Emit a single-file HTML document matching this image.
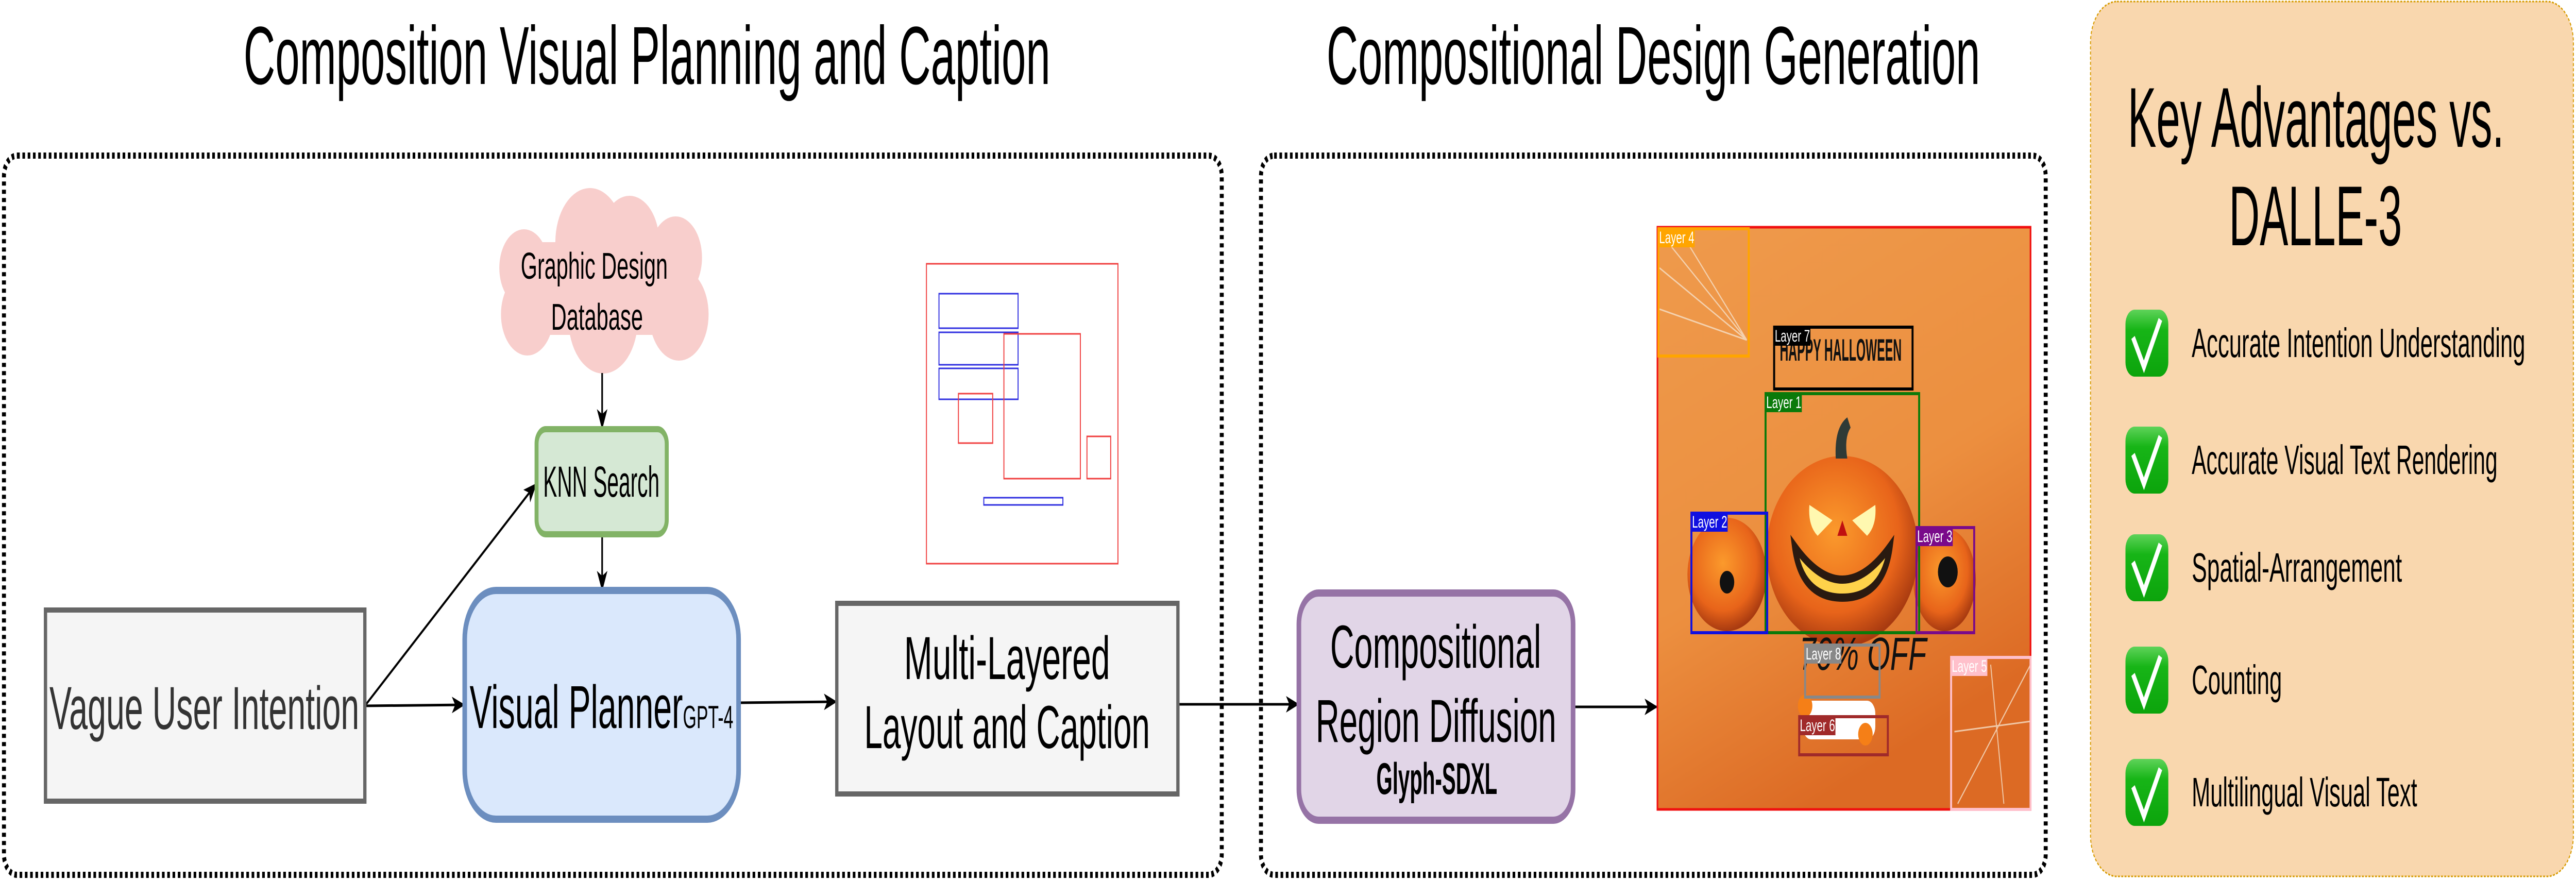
<!DOCTYPE html>
<html><head><meta charset="utf-8"><style>
html,body{margin:0;padding:0;background:#fff;width:100%;height:100%;overflow:hidden}
svg{display:block;width:100vw;height:100vh}
text{font-family:"Liberation Sans",sans-serif}
</style></head><body>
<svg viewBox="0 0 7816 1708" preserveAspectRatio="none" xmlns="http://www.w3.org/2000/svg">
<defs>
<marker id="ah" markerWidth="40" markerHeight="40" refX="36" refY="20" orient="auto" markerUnits="userSpaceOnUse" viewBox="0 0 40 40"><path d="M0,4 L40,20 L0,36 L10,20 Z" fill="#000"/></marker>
<linearGradient id="og" x1="0" y1="0" x2="0.4" y2="1"><stop offset="0" stop-color="#ee9a4c"/><stop offset="0.6" stop-color="#ec8f3f"/><stop offset="1" stop-color="#dc6a24"/></linearGradient>
<radialGradient id="pk" cx="0.45" cy="0.4" r="0.6"><stop offset="0" stop-color="#fb9a2c"/><stop offset="0.7" stop-color="#e8641a"/><stop offset="1" stop-color="#a83a10"/></radialGradient>
<linearGradient id="gc" x1="0" y1="0" x2="0" y2="1"><stop offset="0" stop-color="#5fd35a"/><stop offset="0.3" stop-color="#17b517"/><stop offset="1" stop-color="#0ca40c"/></linearGradient>
</defs>

<text x="739" y="163" font-size="160" textLength="2448" lengthAdjust="spacingAndGlyphs">Composition Visual Planning and Caption</text>
<text x="4025" y="163" font-size="160" textLength="1983" lengthAdjust="spacingAndGlyphs">Compositional Design Generation</text>

<rect x="12" y="302" width="3695" height="1396" rx="40" fill="none" stroke="#000" stroke-width="12" stroke-dasharray="8 8"/>
<rect x="3826" y="302" width="2381" height="1396" rx="40" fill="none" stroke="#000" stroke-width="12" stroke-dasharray="8 8"/>

<g fill="#f8cecc">
<circle cx="1790" cy="470" r="105"/><circle cx="1910" cy="470" r="90"/>
<circle cx="1590" cy="520" r="75"/><circle cx="2050" cy="500" r="80"/>
<circle cx="1600" cy="610" r="80"/><circle cx="2060" cy="610" r="90"/>
<circle cx="1830" cy="620" r="105"/><rect x="1600" y="470" width="460" height="180"/>
</g>
<text x="1580" y="541" font-size="72" textLength="446" lengthAdjust="spacingAndGlyphs">Graphic Design</text>
<text x="1672" y="640" font-size="72" textLength="279" lengthAdjust="spacingAndGlyphs">Database</text>

<g stroke="#000" stroke-width="5" fill="none" marker-end="url(#ah)">
<line x1="1827" y1="724" x2="1827" y2="830"/>
<line x1="1827" y1="1037" x2="1827" y2="1144"/>
<line x1="1107" y1="1370" x2="1407" y2="1368"/>
<line x1="1107" y1="1370" x2="1626" y2="940"/>
<line x1="2241" y1="1364" x2="2536" y2="1362"/>
<line x1="3574" y1="1367" x2="3938" y2="1367"/>
<line x1="4773" y1="1372" x2="5026" y2="1372"/>
</g>

<rect x="1628" y="833" width="395" height="204" rx="28" fill="#d5e8d4" stroke="#82b366" stroke-width="12"/>
<text x="1648" y="964" font-size="84" textLength="353" lengthAdjust="spacingAndGlyphs">KNN Search</text>

<rect x="1410" y="1146" width="831" height="444" rx="95" fill="#dae8fc" stroke="#6c8ebf" stroke-width="14"/>
<text x="1425" y="1413" font-size="118" textLength="647" lengthAdjust="spacingAndGlyphs">Visual Planner</text>
<text x="2072" y="1413" font-size="62" textLength="153" lengthAdjust="spacingAndGlyphs">GPT-4</text>

<rect x="138" y="1184" width="969" height="371" fill="#f5f5f5" stroke="#666" stroke-width="10"/>
<text x="150" y="1415" font-size="118" fill="#333" textLength="940" lengthAdjust="spacingAndGlyphs">Vague User Intention</text>

<rect x="2539" y="1171" width="1035" height="370" fill="#f5f5f5" stroke="#666" stroke-width="10"/>
<text x="2743" y="1318" font-size="118" textLength="625" lengthAdjust="spacingAndGlyphs">Multi-Layered</text>
<text x="2622" y="1452" font-size="118" textLength="867" lengthAdjust="spacingAndGlyphs">Layout and Caption</text>

<g fill="none" stroke-width="3">
<rect x="2811" y="512" width="581" height="582" stroke="#f04040"/>
<rect x="2849" y="570" width="240" height="67" stroke="#3030e0"/>
<rect x="2849" y="645" width="240" height="63" stroke="#3030e0"/>
<rect x="2849" y="715" width="240" height="60" stroke="#3030e0"/>
<rect x="3046" y="648" width="232" height="281" stroke="#f04040"/>
<rect x="2908" y="764" width="104" height="96" stroke="#f04040"/>
<rect x="3298" y="847" width="72" height="82" stroke="#f04040"/>
<rect x="2985" y="966" width="240" height="14" stroke="#3030e0"/>
</g>

<rect x="3941" y="1151" width="832" height="441" rx="60" fill="#e1d5e7" stroke="#9673a6" stroke-width="14"/>
<text x="4036" y="1296" font-size="118" textLength="640" lengthAdjust="spacingAndGlyphs">Compositional</text>
<text x="3992" y="1440" font-size="118" textLength="730" lengthAdjust="spacingAndGlyphs">Region Diffusion</text>
<text x="4176" y="1541" font-size="86" font-weight="bold" textLength="367" lengthAdjust="spacingAndGlyphs">Glyph-SDXL</text>

<g>
<rect x="5029" y="441" width="1132" height="1130" fill="url(#og)" stroke="#f01010" stroke-width="5"/>
<g stroke="#f5e0c8" stroke-width="3" fill="none" opacity="0.8">
<path d="M5035 450 L5300 660 M5035 520 L5300 660 M5100 450 L5300 660 M5035 600 L5300 660"/>
<path d="M6161 1290 L5940 1560 M6161 1400 L5930 1420 M6040 1290 L6080 1560"/>
</g>
<ellipse cx="5240" cy="1115" rx="120" ry="110" fill="url(#pk)"/>
<ellipse cx="5900" cy="1125" rx="95" ry="100" fill="url(#pk)"/>
<ellipse cx="5590" cy="1070" rx="230" ry="185" fill="url(#pk)"/>
<path d="M5570 890 q-5 -60 35 -80 l10 20 q-20 20 -10 60 z" fill="#2f3a36"/>
<path d="M5490 980 l70 30 l-45 30 q-30 -20 -25 -60 z M5690 980 l-70 30 l45 30 q30 -20 25 -60 z" fill="#fff8b0"/>
<path d="M5575 1040 l15 -30 l15 30 z" fill="#c01010"/>
<path d="M5445 1060 q145 130 290 0 q-20 100 -145 100 q-125 0 -145 -100 z" fill="#ffd24a" stroke="#2a1a10" stroke-width="16"/>
<circle cx="5240" cy="1130" r="22" fill="#111"/><circle cx="5910" cy="1110" r="30" fill="#111"/>
<text x="5400" y="700" font-size="60" font-weight="bold" textLength="370" lengthAdjust="spacingAndGlyphs" fill="#111">HAPPY HALLOWEEN</text>
<text x="5460" y="1300" font-size="90" font-style="italic" font-family="Liberation Serif" fill="#111">70% OFF</text>
<rect x="5470" y="1360" width="220" height="75" rx="25" fill="#fff"/>
<circle cx="5477" cy="1370" r="22" fill="#f57f17"/><circle cx="5660" cy="1425" r="22" fill="#f57f17"/>
<g fill="none" stroke-width="6">
<rect x="5032" y="444" width="274" height="247" stroke="#ffa500"/>
<rect x="5383" y="635" width="420" height="120" stroke="#000"/>
<rect x="5357" y="764" width="466" height="464" stroke="#0a7a0a"/>
<rect x="5132" y="996" width="230" height="232" stroke="#1010e0"/>
<rect x="5815" y="1024" width="175" height="204" stroke="#7a0a8a"/>
<rect x="5477" y="1252" width="226" height="101" stroke="#888"/>
<rect x="5459" y="1391" width="269" height="74" stroke="#a02a2a"/>
<rect x="5920" y="1276" width="241" height="295" stroke="#ffc0cb"/>
</g>
<g font-size="32" fill="#fff">
<rect x="5032" y="444" width="110" height="36" fill="#ffa500"/><text x="5034" y="472">Layer 4</text>
<rect x="5383" y="635" width="110" height="36" fill="#000"/><text x="5385" y="663">Layer 7</text>
<rect x="5357" y="764" width="110" height="36" fill="#0a7a0a"/><text x="5359" y="792">Layer 1</text>
<rect x="5132" y="996" width="110" height="36" fill="#1010e0"/><text x="5134" y="1024">Layer 2</text>
<rect x="5815" y="1024" width="110" height="36" fill="#7a0a8a"/><text x="5817" y="1052">Layer 3</text>
<rect x="5477" y="1252" width="110" height="36" fill="#888"/><text x="5479" y="1280">Layer 8</text>
<rect x="5459" y="1391" width="110" height="36" fill="#a02a2a"/><text x="5461" y="1419">Layer 6</text>
<rect x="5920" y="1276" width="110" height="36" fill="#ffc0cb"/><text x="5922" y="1304">Layer 5</text>
</g>
</g>

<rect x="6343" y="3" width="1465" height="1698" rx="80" fill="#f9d7ae" stroke="#d79b00" stroke-width="3" stroke-dasharray="6 4"/>
<text x="6456" y="285" font-size="165" textLength="1142" lengthAdjust="spacingAndGlyphs">Key Advantages vs.</text>
<text x="6763" y="476" font-size="165" textLength="525" lengthAdjust="spacingAndGlyphs">DALLE-3</text>

<g>
<g>
<rect x="6449" y="601" width="130" height="130" rx="28" fill="url(#gc)"/>
<path d="M6472 655 L6505 712 L6555 620" fill="none" stroke="#fff" stroke-width="12"/>
<text x="6650" y="693" font-size="80" textLength="1012" lengthAdjust="spacingAndGlyphs">Accurate Intention Understanding</text>
</g>
<g>
<rect x="6449" y="828" width="130" height="130" rx="28" fill="url(#gc)"/>
<path d="M6472 882 L6505 939 L6555 847" fill="none" stroke="#fff" stroke-width="12"/>
<text x="6650" y="920" font-size="80" textLength="928" lengthAdjust="spacingAndGlyphs">Accurate Visual Text Rendering</text>
</g>
<g>
<rect x="6449" y="1037" width="130" height="130" rx="28" fill="url(#gc)"/>
<path d="M6472 1091 L6505 1148 L6555 1056" fill="none" stroke="#fff" stroke-width="12"/>
<text x="6650" y="1129" font-size="80" textLength="638" lengthAdjust="spacingAndGlyphs">Spatial-Arrangement</text>
</g>
<g>
<rect x="6449" y="1255" width="130" height="130" rx="28" fill="url(#gc)"/>
<path d="M6472 1309 L6505 1366 L6555 1274" fill="none" stroke="#fff" stroke-width="12"/>
<text x="6650" y="1347" font-size="80" textLength="274" lengthAdjust="spacingAndGlyphs">Counting</text>
</g>
<g>
<rect x="6449" y="1473" width="130" height="130" rx="28" fill="url(#gc)"/>
<path d="M6472 1527 L6505 1584 L6555 1492" fill="none" stroke="#fff" stroke-width="12"/>
<text x="6650" y="1565" font-size="80" textLength="684" lengthAdjust="spacingAndGlyphs">Multilingual Visual Text</text>
</g>
</g>
</svg>
</body></html>
